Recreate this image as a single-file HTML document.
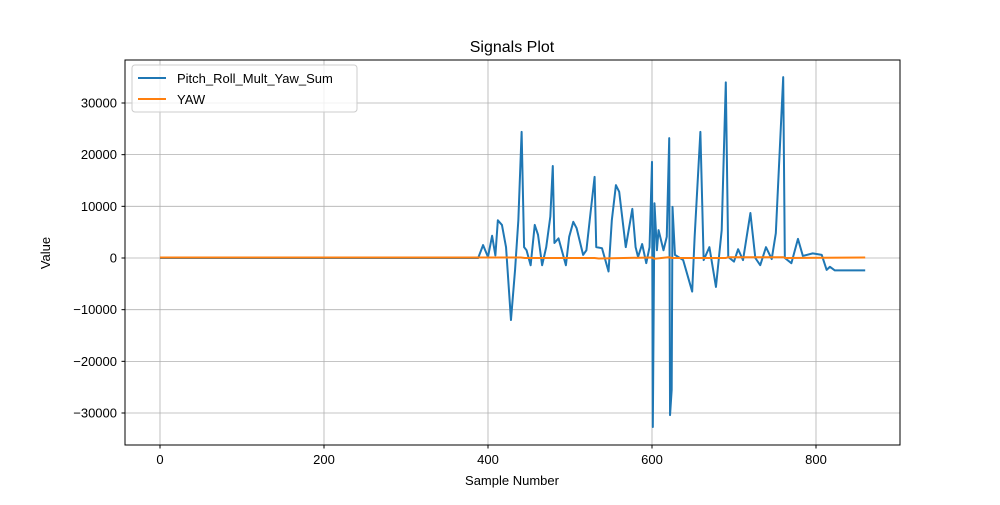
<!DOCTYPE html>
<html><head><meta charset="utf-8"><style>
body{margin:0;background:#fff;font-family:"Liberation Sans",sans-serif}
svg text{font-family:"Liberation Sans",sans-serif;fill:#000}
</style></head><body>
<svg id="chart" width="1000" height="500" xmlns="http://www.w3.org/2000/svg">
<rect width="1000" height="500" fill="#fff"/>
<text x="512" y="52" font-size="16" text-anchor="middle">Signals Plot</text>
<g id="grid"></g>
<g id="series"></g>
<rect x="125" y="60" width="775" height="385" fill="none" stroke="#000" stroke-width="1"/>
<g id="ticks"></g>
<text x="512" y="485" font-size="13" text-anchor="middle">Sample Number</text>
<text x="50" y="253" font-size="13" text-anchor="middle" transform="rotate(-90 50 253)">Value</text>
<g>
<rect x="132" y="65" width="225" height="47" rx="3" fill="#fff" fill-opacity="0.8" stroke="#ccc"/>
<line x1="138" y1="78" x2="166" y2="78" stroke="#1f77b4" stroke-width="2"/>
<text x="177" y="83" font-size="13">Pitch_Roll_Mult_Yaw_Sum</text>
<line x1="138" y1="99" x2="166" y2="99" stroke="#ff7f0e" stroke-width="2"/>
<text x="177" y="104" font-size="13">YAW</text>
</g>
</svg>
<script>
const xTicks=[0,200,400,600,800];
const yTicks=[-30000,-20000,-10000,0,10000,20000,30000];
const sumSamples=[0,388,394,400,405,409,412,417,422,428,433,437,441,444,447,452,457,461,466,471,476,479,481,486,495,499,504,508,516,520,525,530,532,539,547,551,556,560,568,576,580,583,588,593,597,600,601,603,606,608,614,618,621,622,624,625,628,638,649,652,659,663,670,678,685,690,693,700,705,711,720,726,732,739,746,751,760,762,770,778,784,796,807,813,817,823,860];
const sumValues=[0,0,2500,200,4300,500,7300,6400,2100,-12000,-2300,7300,24400,2100,1500,-1400,6400,4500,-1400,2100,8000,17800,2900,3800,-1400,4100,7000,5800,600,1500,8700,15700,2100,1900,-2600,7300,14100,12800,2100,9500,2100,200,2700,-1000,2100,18600,-32700,10600,1500,5400,1500,4100,23200,-30400,-25500,9900,600,-400,-6500,4100,24400,-400,2100,-5600,5400,34000,200,-700,1700,-400,8700,0,-1400,2100,-200,4800,35000,0,-1000,3700,400,900,600,-2300,-1700,-2400,-2400];
const yawSamples=[0,440,445,530,535,600,603,620,625,690,693,760,763,860];
const yawValues=[100,100,0,0,-100,100,-150,150,0,0,150,150,0,100];
const X=v=>160+v*0.82;
const Y=v=>258-v*0.005167;
const NS="http://www.w3.org/2000/svg";
const grid=document.getElementById('grid'),ticks=document.getElementById('ticks'),series=document.getElementById('series');
function mk(tag,attrs,parent){const e=document.createElementNS(NS,tag);for(const k in attrs)e.setAttribute(k,attrs[k]);parent.appendChild(e);return e;}
xTicks.forEach(t=>{
 const g=mk('line',{x1:X(t),x2:X(t),y1:60,y2:445,stroke:'#b0b0b0','stroke-width':0.8},grid);
 
 
 mk('line',{x1:X(t),x2:X(t),y1:445,y2:448.5,stroke:'#000'},ticks);
 const tx=mk('text',{x:X(t),y:464,'font-size':13,'text-anchor':'middle'},ticks);
 tx.textContent=t;
 
 
});
yTicks.forEach(t=>{
 const g=mk('line',{x1:125,x2:900,y1:Y(t),y2:Y(t),stroke:'#b0b0b0','stroke-width':0.8},grid);
 
 
 mk('line',{x1:121.5,x2:125,y1:Y(t),y2:Y(t),stroke:'#000'},ticks);
 const tx=mk('text',{x:117,y:Y(t)+4.5,'font-size':13,'text-anchor':'end'},ticks);
 tx.textContent=t<0?'\u2212'+Math.abs(t):String(t);
 
 
});
const p1=mk('polyline',{points:sumSamples.map((s,i)=>X(s)+','+Y(sumValues[i])).join(' '),fill:'none',stroke:'#1f77b4','stroke-width':2,'stroke-linejoin':'round'},series);


const p2=mk('polyline',{points:yawSamples.map((s,i)=>X(s)+','+Y(yawValues[i])).join(' '),fill:'none',stroke:'#ff7f0e','stroke-width':2},series);


</script>
</body></html>
